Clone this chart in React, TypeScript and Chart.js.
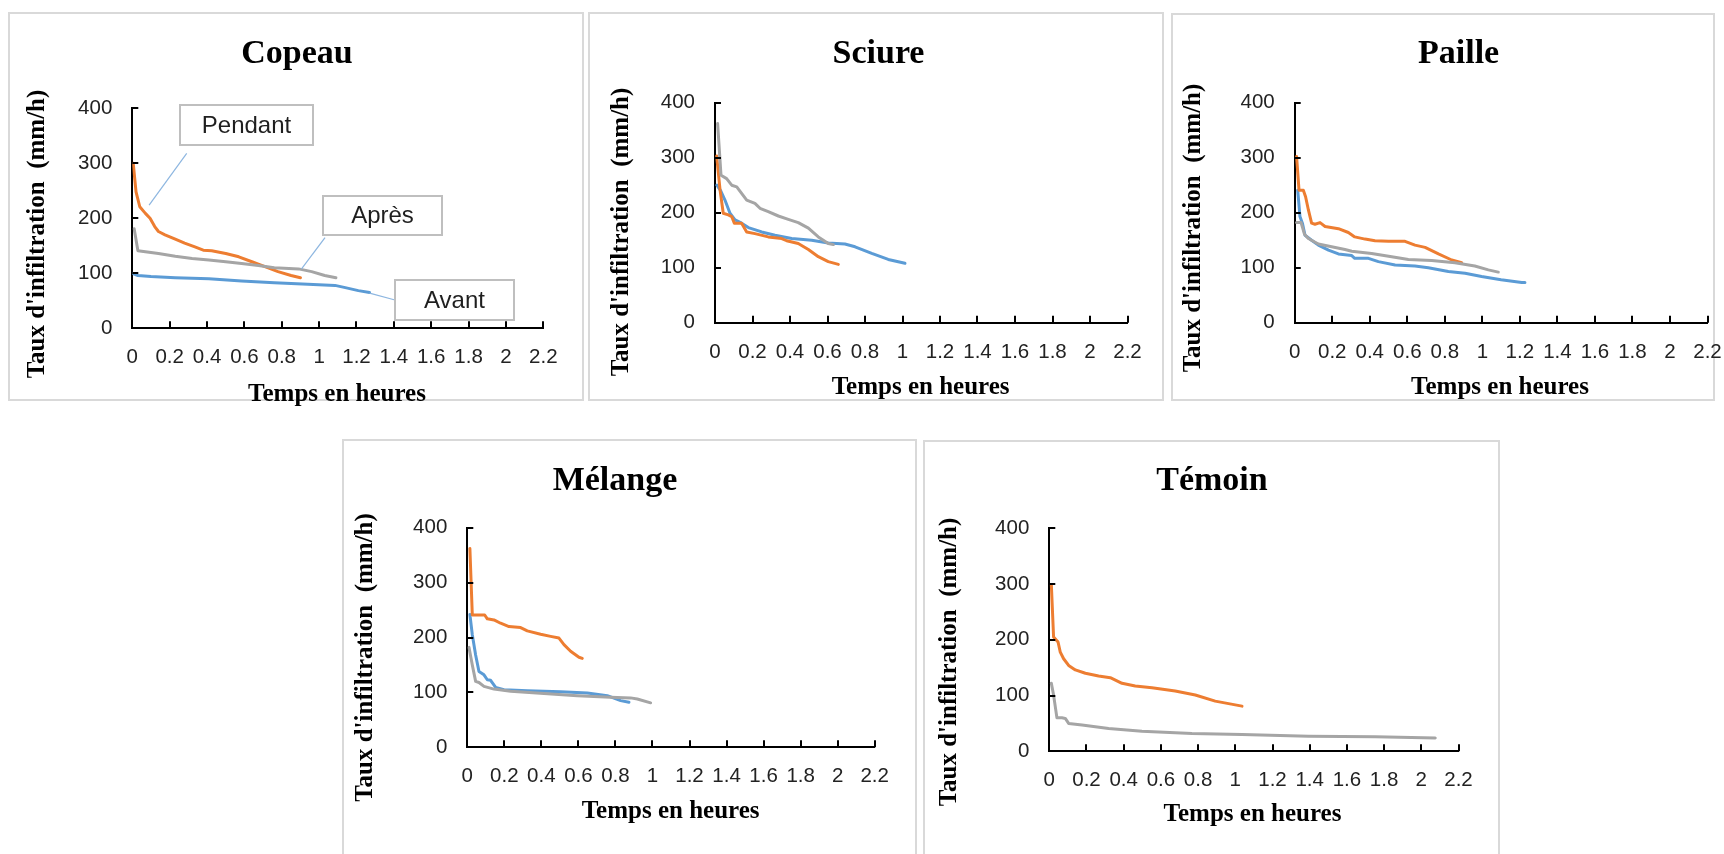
import React, { useEffect, useRef } from "react";
import { Chart, registerables } from "chart.js";

Chart.register(...registerables);

// ---------- axis ticks & texts ----------
const X_TICKS = [0, 0.2, 0.4, 0.6, 0.8, 1, 1.2, 1.4, 1.6, 1.8, 2, 2.2];
const Y_TICKS = [0, 100, 200, 300, 400];
const X_TITLE = "Temps en heures";
const Y_TITLE = "Taux d'infiltration  (mm/h)";
const SERIES_NAMES = ["Avant", "Pendant", "Après"];
const SERIES_COLORS = ["#5B9BD5", "#ED7D31", "#A5A5A5"];

// ---------- Copeau ----------
const copeauAvantX = [0, 0.03, 0.1, 0.23, 0.41, 0.585, 0.76, 0.94, 1.085, 1.14, 1.21, 1.27];
const copeauAvantY = [100, 96, 94, 92, 90, 86, 83, 80, 78, 74, 68.5, 65];
const copeauPendantX = [0.005, 0.02, 0.04, 0.07, 0.095, 0.12, 0.14, 0.175, 0.23, 0.28, 0.335, 0.38, 0.425, 0.5, 0.57, 0.64, 0.71, 0.78, 0.85, 0.9];
const copeauPendantY = [300, 248, 221, 209, 200, 185, 176, 170, 162, 155, 148, 142, 141, 136, 130, 121, 112, 103, 96, 92];
const copeauApresX = [0.01, 0.03, 0.07, 0.14, 0.23, 0.32, 0.41, 0.5, 0.585, 0.675, 0.76, 0.89, 0.96, 1.03, 1.09];
const copeauApresY = [181, 141, 139, 136, 131, 127, 124, 121, 118, 114, 110, 108, 103, 96, 92];

// ---------- Sciure ----------
const sciureAvantX = [0.01, 0.03, 0.053, 0.08, 0.107, 0.142, 0.178, 0.249, 0.32, 0.409, 0.516, 0.604, 0.693, 0.747, 0.836, 0.924, 1.013];
const sciureAvantY = [250, 240, 223, 199, 187, 181, 173, 165, 159, 153, 150, 145, 143, 138, 126, 115, 108];
const sciurePendantX = [0.009, 0.027, 0.044, 0.071, 0.089, 0.103, 0.124, 0.142, 0.169, 0.213, 0.284, 0.356, 0.382, 0.444, 0.498, 0.551, 0.604, 0.658];
const sciurePendantY = [303, 241, 199, 196, 193, 181, 181, 181, 165, 162, 156, 153, 149, 144, 133, 120, 111, 106];
const sciureApresX = [0.014, 0.032, 0.062, 0.089, 0.116, 0.142, 0.169, 0.213, 0.24, 0.284, 0.338, 0.391, 0.444, 0.498, 0.551, 0.604, 0.631];
const sciureApresY = [362, 268, 262, 250, 247, 235, 223, 217, 208, 202, 194, 188, 182, 172, 156, 144, 142];

// ---------- Paille ----------
const pailleAvantX = [0.016, 0.028, 0.041, 0.055, 0.09, 0.126, 0.18, 0.233, 0.304, 0.32, 0.393, 0.446, 0.535, 0.641, 0.712, 0.819, 0.908, 0.996, 1.1, 1.21, 1.227];
const pailleAvantY = [241, 193, 181, 159, 150, 141, 132, 125, 122, 117, 117, 111, 105, 103, 100, 93, 90, 84, 78, 73, 73];
const paillePendantX = [0.01, 0.023, 0.046, 0.058, 0.073, 0.09, 0.108, 0.135, 0.162, 0.233, 0.286, 0.32, 0.375, 0.428, 0.5, 0.588, 0.641, 0.695, 0.766, 0.837, 0.89];
const paillePendantY = [302, 241, 241, 229, 205, 181, 179, 182, 175, 171, 164, 156, 152, 149, 148, 148, 141, 137, 125, 114, 109];
const pailleApresX = [0.01, 0.034, 0.052, 0.073, 0.126, 0.197, 0.268, 0.304, 0.41, 0.517, 0.606, 0.73, 0.854, 0.96, 1.032, 1.085];
const pailleApresY = [182, 182, 161, 153, 143, 138, 133, 130, 126, 120, 115, 113, 109, 103, 96, 92];

// ---------- Mélange ----------
const melangeAvantX = [0.014, 0.027, 0.045, 0.063, 0.09, 0.108, 0.126, 0.153, 0.198, 0.324, 0.504, 0.648, 0.756, 0.828, 0.873];
const melangeAvantY = [242, 205, 168, 138, 132, 123, 122, 109, 105, 103, 101, 99, 94, 85, 82];
const melangePendantX = [0.014, 0.027, 0.054, 0.094, 0.108, 0.144, 0.18, 0.225, 0.288, 0.324, 0.396, 0.45, 0.495, 0.522, 0.558, 0.603, 0.621];
const melangePendantY = [362, 241, 241, 241, 234, 232, 226, 220, 218, 212, 206, 202, 199, 187, 175, 164, 162];
const melangeApresX = [0.009, 0.027, 0.045, 0.063, 0.09, 0.144, 0.234, 0.414, 0.594, 0.774, 0.882, 0.918, 0.99];
const melangeApresY = [182, 150, 120, 118, 111, 106, 102, 98, 94, 91, 90, 88, 81];

// ---------- Témoin ----------
const temoinPendantX = [0.011, 0.023, 0.047, 0.059, 0.077, 0.104, 0.14, 0.194, 0.265, 0.328, 0.391, 0.462, 0.552, 0.677, 0.785, 0.892, 1.036];
const temoinPendantY = [299, 205, 196, 178, 166, 154, 146, 140, 135, 132, 122, 117, 114, 108, 101, 90, 81];
const temoinApresX = [0.011, 0.023, 0.041, 0.068, 0.086, 0.104, 0.176, 0.319, 0.498, 0.767, 1.036, 1.394, 1.753, 2.075];
const temoinApresY = [122, 101, 60, 60, 59, 50, 47, 41, 36, 32, 30, 27, 26, 24];

// ---------- Copeau callout anchors (data coords) ----------
const CALLOUT_TEXTS = ["Pendant", "Après", "Avant"];
const CALLOUT_ANCHOR_X = [0.09, 0.906, 1.27];
const CALLOUT_ANCHOR_Y = [224, 108, 64];

type Series = { name: string; x: number[]; y: number[] };
type Callout = { text: string; box: number[]; from: number[]; ax: number; ay: number };
type Panel = {
  title: string;
  series: Series[];
  box: number[]; // x1,y1,x2,y2 (page)
  area: number[]; // L,T,R,B (page)
  titlePos: number[];
  xTitlePos: number[];
  yTitlePos: number[];
  callouts?: Callout[];
};

const mk = (name: string, x: number[], y: number[]): Series => ({ name, x, y });

const PANELS: Panel[] = [
  {
    title: "Copeau",
    series: [mk("Avant", copeauAvantX, copeauAvantY), mk("Pendant", copeauPendantX, copeauPendantY), mk("Après", copeauApresX, copeauApresY)],
    box: [8, 12, 584, 401],
    area: [132.3, 108.3, 543.3, 328.3],
    titlePos: [297, 54],
    xTitlePos: [337, 395],
    yTitlePos: [38, 234],
    callouts: [
      { text: CALLOUT_TEXTS[0], box: [180, 105, 313, 145], from: [186.7, 153.3], ax: CALLOUT_ANCHOR_X[0], ay: CALLOUT_ANCHOR_Y[0] },
      { text: CALLOUT_TEXTS[1], box: [323, 196, 442, 235], from: [325, 237.7], ax: CALLOUT_ANCHOR_X[1], ay: CALLOUT_ANCHOR_Y[1] },
      { text: CALLOUT_TEXTS[2], box: [395, 280, 514, 320], from: [395, 300], ax: CALLOUT_ANCHOR_X[2], ay: CALLOUT_ANCHOR_Y[2] },
    ],
  },
  {
    title: "Sciure",
    series: [mk("Avant", sciureAvantX, sciureAvantY), mk("Pendant", sciurePendantX, sciurePendantY), mk("Après", sciureApresX, sciureApresY)],
    box: [588, 12, 1164, 401],
    area: [715, 102.7, 1127.5, 322.7],
    titlePos: [878.5, 54],
    xTitlePos: [920.6, 388],
    yTitlePos: [622, 232],
  },
  {
    title: "Paille",
    series: [mk("Avant", pailleAvantX, pailleAvantY), mk("Pendant", paillePendantX, paillePendantY), mk("Après", pailleApresX, pailleApresY)],
    box: [1171, 13, 1715, 401],
    area: [1294.7, 102.7, 1707.5, 322.7],
    titlePos: [1458.6, 54],
    xTitlePos: [1500, 388],
    yTitlePos: [1194, 228],
  },
  {
    title: "Mélange",
    series: [mk("Avant", melangeAvantX, melangeAvantY), mk("Pendant", melangePendantX, melangePendantY), mk("Après", melangeApresX, melangeApresY)],
    box: [342, 439, 917, 858],
    area: [467.3, 527.7, 874.7, 747.3],
    titlePos: [615, 481],
    xTitlePos: [670.6, 811.7],
    yTitlePos: [366, 657.5],
  },
  {
    title: "Témoin",
    series: [mk("Pendant", temoinPendantX, temoinPendantY), mk("Après", temoinApresX, temoinApresY)],
    box: [923, 440, 1500, 858],
    area: [1049.3, 528.3, 1458.5, 751.3],
    titlePos: [1212, 481],
    xTitlePos: [1252.5, 815],
    yTitlePos: [950, 662],
  },
];

const M = 30;
const SERIF = "'Liberation Serif', 'Times New Roman', serif";
const SANS = "'Liberation Sans', Arial, sans-serif";

function ChartPanel({ p }: { p: Panel }) {
  const ref = useRef<HTMLCanvasElement | null>(null);
  const [bx1, by1, bx2, by2] = p.box;
  const ox = bx1 - M;
  const oy = by1 - M;
  const cw = Math.round(bx2 - bx1 + 2 * M);
  const ch = Math.round(by2 - by1 + 2 * M);

  useEffect(() => {
    if (!ref.current) return;
    const [L, T, R, B] = p.area;
    const decor = {
      id: "decor",
      afterDraw(chart: any) {
        const ctx = chart.ctx as CanvasRenderingContext2D;
        const xs = chart.scales.x;
        const ys = chart.scales.y;
        const { left, bottom } = chart.chartArea;
        ctx.save();
        // inside tick marks
        ctx.strokeStyle = "#000";
        ctx.lineWidth = 2;
        ctx.beginPath();
        xs.ticks.forEach((t: any) => {
          if (t.value === 0) return;
          const px = Math.round(xs.getPixelForValue(t.value));
          ctx.moveTo(px, bottom);
          ctx.lineTo(px, bottom - 7);
        });
        ys.ticks.forEach((t: any) => {
          if (t.value === 0) return;
          const py = Math.round(ys.getPixelForValue(t.value));
          ctx.moveTo(left, py);
          ctx.lineTo(left + 6, py);
        });
        ctx.stroke();
        // titles
        ctx.fillStyle = "#000";
        ctx.textAlign = "center";
        ctx.textBaseline = "middle";
        ctx.font = `bold 34px ${SERIF}`;
        ctx.fillText(p.title, p.titlePos[0] - ox, p.titlePos[1] - oy);
        ctx.font = `bold 25px ${SERIF}`;
        ctx.fillText(X_TITLE, p.xTitlePos[0] - ox, p.xTitlePos[1] - oy);
        ctx.save();
        ctx.translate(p.yTitlePos[0] - ox, p.yTitlePos[1] - oy);
        ctx.rotate(-Math.PI / 2);
        ctx.fillText(Y_TITLE, 0, 0);
        ctx.restore();
        // callouts
        (p.callouts || []).forEach((c) => {
          const tx = xs.getPixelForValue(c.ax);
          const ty = ys.getPixelForValue(c.ay);
          ctx.strokeStyle = "#8DB6E0";
          ctx.lineWidth = 1.2;
          ctx.beginPath();
          ctx.moveTo(c.from[0] - ox, c.from[1] - oy);
          ctx.lineTo(tx, ty);
          ctx.stroke();
          const [x1, y1, x2, y2] = c.box;
          ctx.fillStyle = "#fff";
          ctx.fillRect(x1 - ox, y1 - oy, x2 - x1, y2 - y1);
          ctx.strokeStyle = "#BFBFBF";
          ctx.lineWidth = 2;
          ctx.strokeRect(x1 - ox, y1 - oy, x2 - x1, y2 - y1);
          ctx.fillStyle = "#1f1f1f";
          ctx.font = `24px ${SANS}`;
          ctx.fillText(c.text, (x1 + x2) / 2 - ox, (y1 + y2) / 2 - oy + 1);
        });
        ctx.restore();
      },
    };

    const datasets = p.series.map((s) => {
      const idx = SERIES_NAMES.indexOf(s.name);
      return {
        label: s.name,
        data: s.x.map((xv, i) => ({ x: xv, y: s.y[i] })),
        borderColor: SERIES_COLORS[idx],
        backgroundColor: SERIES_COLORS[idx],
        borderWidth: 3,
        pointRadius: 0,
        tension: 0,
        fill: false,
        borderJoinStyle: "round" as const,
        borderCapStyle: "round" as const,
        order: 3 - idx,
      };
    });

    const chart = new Chart(ref.current, {
      type: "line",
      data: { datasets },
      options: {
        animation: false,
        responsive: false,
        maintainAspectRatio: false,
        events: [],
        layout: { padding: { left: 0, top: T - oy, right: cw - (R - ox), bottom: 0 } },
        plugins: { legend: { display: false }, title: { display: false }, tooltip: { enabled: false } },
        scales: {
          x: {
            type: "linear",
            min: 0,
            max: 2.2,
            afterBuildTicks: (s: any) => {
              s.ticks = X_TICKS.map((v) => ({ value: v }));
            },
            afterFit: (s: any) => {
              s.height = ch - (B - oy);
            },
            grid: { display: false, drawTicks: false },
            border: { display: true, color: "#000", width: 2 },
            ticks: {
              autoSkip: false,
              maxRotation: 0,
              padding: 17,
              color: "#222",
              font: { family: SANS, size: 20.5 },
              callback: (v: any) => String(Math.round(Number(v) * 10) / 10),
            },
          },
          y: {
            type: "linear",
            min: 0,
            max: 400,
            afterBuildTicks: (s: any) => {
              s.ticks = Y_TICKS.map((v) => ({ value: v }));
            },
            afterFit: (s: any) => {
              s.width = L - ox;
            },
            grid: { display: false, drawTicks: false },
            border: { display: true, color: "#000", width: 2 },
            ticks: {
              padding: 20,
              color: "#222",
              font: { family: SANS, size: 20.5 },
              callback: (v: any) => String(v),
            },
          },
        },
      },
      plugins: [decor],
    } as any);
    return () => chart.destroy();
  }, []);

  return (
    <canvas
      ref={ref}
      width={cw}
      height={ch}
      style={{ position: "absolute", left: ox, top: oy, width: cw, height: ch }}
    />
  );
}

export default function App() {
  return (
    <div
      style={{
        position: "absolute",
        left: 0,
        top: 0,
        width: 1724,
        height: 854,
        overflow: "hidden",
        background: "#fff",
      }}
    >
      {PANELS.map((p) => (
        <div
          key={p.title + "-box"}
          style={{
            position: "absolute",
            left: p.box[0],
            top: p.box[1],
            width: p.box[2] - p.box[0],
            height: p.box[3] - p.box[1],
            border: "2px solid #D9D9D9",
            boxSizing: "border-box",
          }}
        />
      ))}
      {PANELS.map((p) => (
        <ChartPanel key={p.title} p={p} />
      ))}
    </div>
  );
}
